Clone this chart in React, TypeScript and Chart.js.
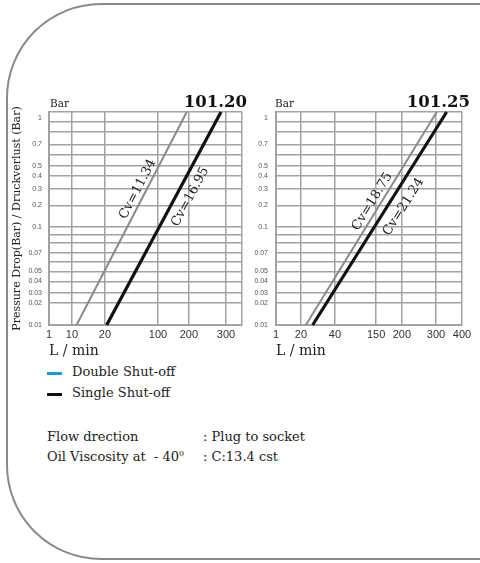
import React, { useEffect, useRef } from 'react';
import { Chart, Scale, registerables } from 'chart.js';

// ---------------- data ----------------
const pressureTicks = [1, 0.9, 0.8, 0.7, 0.6, 0.5, 0.4, 0.3, 0.2, 0.1, 0.09, 0.08, 0.07, 0.06, 0.05, 0.04, 0.03, 0.02, 0.01];
const pressureLabels = ['1', '', '', '0.7', '', '0.5', '0.4', '0.3', '0.2', '0.1', '', '', '0.07', '', '0.05', '0.04', '0.03', '0.02', '0.01'];
const pressureMin = 0.01;
const pressureMax = 1;

const leftFlowTicks = [1, 10, 20, 100, 200, 300, 400];
const leftFlowLabels = ['1', '10', '20', '100', '200', '300', ''];
const rightFlowTicks = [1, 20, 40, 150, 200, 300, 400];
const rightFlowLabels = ['1', '20', '40', '150', '200', '300', '400'];

const leftSeries = ['Cv=11.34', 'Cv=16.95'];
const leftFlowAtMinDrop = [11.4, 22.6];
const leftFlowAtMaxDrop = [192.8, 286.5];

const rightSeries = ['Cv=18.75', 'Cv=21.24'];
const rightFlowAtMinDrop = [22.9, 26.9];
const rightFlowAtMaxDrop = [302.9, 341];

// ---------------- axis layout (the printed chart uses a hand-drawn, non-log grid) ----------------
const PRESSURE_AXIS_FRACS = [1, 0.954, 0.905, 0.848, 0.798, 0.748, 0.699, 0.64, 0.561, 0.46, 0.423, 0.387, 0.34, 0.299, 0.252, 0.205, 0.152, 0.104, 0];
const LEFT_FLOW_FRACS = [0, 0.119, 0.29, 0.565, 0.725, 0.917, 1];
const RIGHT_FLOW_FRACS = [0, 0.134, 0.317, 0.538, 0.677, 0.86, 1];

const GRID = '#a2a2a2';
const GRAY_LINE = '#8a8a8a';
const BLACK_LINE = '#111111';
const TEXT = '#222222';
const SERIF = '"DejaVu Serif", serif';
const SANS = '"Liberation Sans", Arial, sans-serif';

// ---------------- custom scale: piecewise mapping value -> position ----------------
class MappedScale extends Scale {
  static id = 'mapped';
  static defaults = {};

  pairs() {
    const vals: number[] = (this as any).options.mapValues;
    const fr: number[] = (this as any).options.mapFracs;
    return vals.map((v, i) => [v, fr[i]]).sort((a, b) => a[0] - b[0]);
  }
  determineDataLimits() {
    const vals: number[] = (this as any).options.mapValues;
    (this as any).min = Math.min(...vals);
    (this as any).max = Math.max(...vals);
  }
  buildTicks() {
    const vals: number[] = (this as any).options.mapValues;
    return vals.map((v) => ({ value: v }));
  }
  getLabelForValue(value: number) {
    return String(value);
  }
  decimalFor(value: number) {
    const p = this.pairs();
    if (value <= p[0][0]) return p[0][1];
    for (let i = 1; i < p.length; i++) {
      if (value <= p[i][0]) {
        const [v0, f0] = p[i - 1];
        const [v1, f1] = p[i];
        return f0 + ((value - v0) / (v1 - v0)) * (f1 - f0);
      }
    }
    return p[p.length - 1][1];
  }
  getPixelForValue(value: number) {
    return (this as any).getPixelForDecimal(this.decimalFor(value));
  }
  getValueForPixel(pixel: number) {
    const d = (this as any).getDecimalForPixel(pixel);
    const p = this.pairs().slice().sort((a, b) => a[1] - b[1]);
    if (d <= p[0][1]) return p[0][0];
    for (let i = 1; i < p.length; i++) {
      if (d <= p[i][1]) {
        const [v0, f0] = p[i - 1];
        const [v1, f1] = p[i];
        return v0 + ((d - f0) / (f1 - f0)) * (v1 - v0);
      }
    }
    return p[p.length - 1][0];
  }
  getPixelForTick(index: number) {
    const ticks = (this as any).ticks;
    return this.getPixelForValue(ticks[index].value);
  }
}

Chart.register(...registerables, MappedScale as any);

// ---------------- plugins ----------------
const headerPlugin = {
  id: 'header',
  afterDraw(chart: any, _args: any, opts: any) {
    const { ctx, chartArea } = chart;
    ctx.save();
    ctx.fillStyle = TEXT;
    ctx.textBaseline = 'alphabetic';
    ctx.font = `10.5px ${SERIF}`;
    ctx.textAlign = 'left';
    ctx.fillText(opts.unit, chartArea.left + opts.unitDx, chartArea.top - 5);
    ctx.fillStyle = '#111';
    ctx.font = `bold 16.5px ${SERIF}`;
    ctx.textAlign = 'right';
    ctx.fillText(opts.code, chartArea.right + opts.codeDx, chartArea.top - 5);
    ctx.restore();
  },
};

const cvLabelPlugin = {
  id: 'cvLabels',
  afterDatasetsDraw(chart: any, _args: any, opts: any) {
    const { ctx } = chart;
    chart.data.datasets.forEach((ds: any, i: number) => {
      const meta = chart.getDatasetMeta(i);
      const a = meta.data[0];
      const b = meta.data[meta.data.length - 1];
      const place = opts.placement[i];
      const ang = Math.atan2(b.y - a.y, b.x - a.x);
      const cx = a.x + (b.x - a.x) * place.t + Math.sin(ang) * place.off;
      const cy = a.y + (b.y - a.y) * place.t - Math.cos(ang) * place.off;
      ctx.save();
      ctx.translate(cx, cy);
      ctx.rotate(ang);
      ctx.font = `13px ${SERIF}`;
      ctx.fillStyle = TEXT;
      ctx.textAlign = 'center';
      ctx.textBaseline = 'middle';
      ctx.fillText(ds.label, 0, 0);
      ctx.restore();
    });
  },
};

function makeConfig(p: any) {
  const datasets = p.series.map((name: string, i: number) => ({
    label: name,
    data: [
      { x: p.flowMin[i], y: pressureMin },
      { x: p.flowMax[i], y: pressureMax },
    ],
    borderColor: i === 0 ? GRAY_LINE : BLACK_LINE,
    borderWidth: i === 0 ? 2 : 3.2,
    pointRadius: 0,
    tension: 0,
    fill: false,
  }));
  return {
    type: 'line',
    data: { datasets },
    options: {
      responsive: false,
      animation: false,
      events: [],
      layout: { padding: { top: 24, right: p.padRight, left: 0, bottom: 0 } },
      plugins: {
        legend: { display: false },
        tooltip: { enabled: false },
        header: { unit: 'Bar', code: p.code, unitDx: p.unitDx, codeDx: p.codeDx },
        cvLabels: { placement: p.placement },
      },
      scales: {
        x: {
          type: 'mapped',
          mapValues: p.xTicks,
          mapFracs: p.xFracs,
          grid: { color: GRID, lineWidth: 1.5, drawTicks: false },
          border: { color: GRID, width: 2 },
          ticks: {
            autoSkip: false,
            maxRotation: 0,
            padding: 3,
            color: '#333',
            font: { family: SANS, size: 11 },
            callback: (_v: any, i: number) => p.xLabels[i],
          },
          title: {
            display: true,
            text: 'L / min',
            align: 'start',
            color: TEXT,
            font: { family: SERIF, size: 14, lineHeight: 1.2 },
            padding: { top: 0, bottom: 1 },
          },
          afterFit: (s: any) => {
            s.height = 36;
            s.paddingLeft = 0;
            s.paddingRight = 0;
          },
        },
        y: {
          type: 'mapped',
          mapValues: pressureTicks,
          mapFracs: PRESSURE_AXIS_FRACS,
          grid: { color: GRID, lineWidth: 1.5, drawTicks: false },
          border: { color: GRID, width: 2 },
          ticks: {
            autoSkip: false,
            padding: p.yPad,
            color: '#555',
            // the top label sits just inside the frame in the print
            font: (c: any) => ({ family: SANS, size: 7, lineHeight: c.index === 0 ? 1.7 : 1.2 }),
            callback: (_v: any, i: number) => (i === 0 ? ['', pressureLabels[i]] : pressureLabels[i]),
          },
          title: {
            display: p.yTitle,
            text: 'Pressure Drop(Bar) / Druckverlust (Bar)',
            color: TEXT,
            font: { family: SERIF, size: 11, lineHeight: 1.2 },
            padding: { top: 11, bottom: 0 },
          },
          afterFit: (s: any) => {
            s.width = p.yWidth;
            s.paddingTop = 0;
            s.paddingBottom = 0;
          },
        },
      },
    },
    plugins: [headerPlugin, cvLabelPlugin],
  };
}

export default function App() {
  const leftRef = useRef<HTMLCanvasElement | null>(null);
  const rightRef = useRef<HTMLCanvasElement | null>(null);

  useEffect(() => {
    const left = new Chart(
      leftRef.current as HTMLCanvasElement,
      makeConfig({
        series: leftSeries,
        flowMin: leftFlowAtMinDrop,
        flowMax: leftFlowAtMaxDrop,
        xTicks: leftFlowTicks,
        xLabels: leftFlowLabels,
        xFracs: LEFT_FLOW_FRACS,
        code: '101.20',
        unitDx: 1,
        codeDx: 5,
        padRight: 8,
        yWidth: 49,
        yPad: 7,
        yTitle: true,
        placement: [
          { t: 0.62, off: 8 },
          { t: 0.63, off: -13 },
        ],
      }) as any
    );
    const right = new Chart(
      rightRef.current as HTMLCanvasElement,
      makeConfig({
        series: rightSeries,
        flowMin: rightFlowAtMinDrop,
        flowMax: rightFlowAtMaxDrop,
        xTicks: rightFlowTicks,
        xLabels: rightFlowLabels,
        xFracs: RIGHT_FLOW_FRACS,
        code: '101.25',
        unitDx: -1,
        codeDx: 8,
        padRight: 18,
        yWidth: 28,
        yPad: 8,
        yTitle: false,
        placement: [
          { t: 0.56, off: 8 },
          { t: 0.59, off: -14 },
        ],
      }) as any
    );
    return () => {
      left.destroy();
      right.destroy();
    };
  }, []);

  const txt: React.CSSProperties = {
    position: 'absolute',
    fontFamily: SERIF,
    fontSize: 13,
    lineHeight: '16px',
    color: TEXT,
    whiteSpace: 'pre',
  };

  return (
    <div style={{ position: 'fixed', left: 0, top: 0, width: 480, height: 563, overflow: 'hidden', background: '#fff' }}>
      <div
        style={{
          position: 'absolute',
          left: 6,
          top: 3,
          width: 600,
          height: 557,
          boxSizing: 'border-box',
          border: '2.5px solid #8a8a8a',
          borderRadius: 95,
        }}
      />
      <canvas ref={leftRef} width={250} height={273} style={{ position: 'absolute', left: 0, top: 88, width: 250, height: 273 }} />
      <canvas ref={rightRef} width={232} height={273} style={{ position: 'absolute', left: 248, top: 88, width: 232, height: 273 }} />

      <div style={{ position: 'absolute', left: 47, top: 372, width: 15, height: 3, background: '#1a9ad6' }} />
      <div style={{ ...txt, left: 72, top: 364 }}>Double Shut-off</div>
      <div style={{ position: 'absolute', left: 47, top: 393, width: 15, height: 3, background: '#111' }} />
      <div style={{ ...txt, left: 72, top: 385 }}>Single Shut-off</div>

      <div style={{ ...txt, left: 47, top: 429 }}>Flow drection</div>
      <div style={{ ...txt, left: 203, top: 429 }}>: Plug to socket</div>
      <div style={{ ...txt, left: 47, top: 449 }}>
        {'Oil Viscosity at  - 40'}
        <sup style={{ fontSize: 8, verticalAlign: 'top', lineHeight: '10px' }}>0</sup>
      </div>
      <div style={{ ...txt, left: 203, top: 449 }}>: C:13.4 cst</div>
    </div>
  );
}
